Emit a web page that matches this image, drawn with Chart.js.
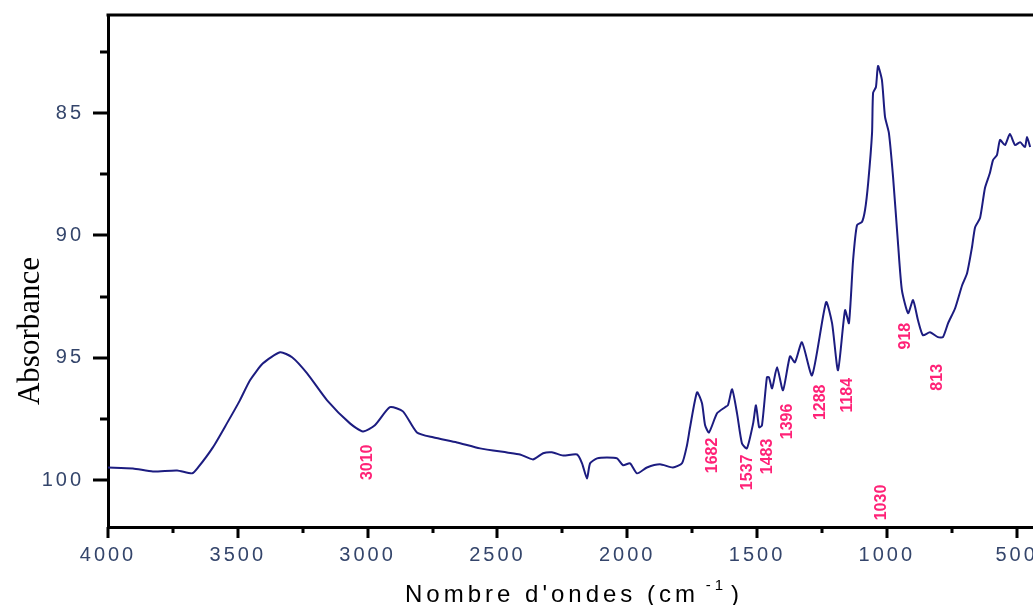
<!DOCTYPE html>
<html>
<head>
<meta charset="utf-8">
<script src="https://cdn.jsdelivr.net/npm/chart.js@4"></script>
<style>
  html, body { margin: 0; padding: 0; background: #fff; }
  canvas { display: block; }
</style>
</head>
<body>
<canvas id="chart" width="1033" height="605"></canvas>
<script>
// spectrum (wavenumber cm-1 / absorbance, axis reversed)
const wavenumbers = [4000, 3904, 3827, 3734, 3676, 3653, 3596, 3542, 3492, 3453, 3403, 3337, 3291, 3233, 3156, 3068, 3018, 2972, 2914, 2864, 2810, 2748, 2656, 2567, 2463, 2413, 2363, 2324, 2290, 2247, 2193, 2174, 2155, 2143, 2116, 2078, 2039, 2016, 1989, 1962, 1924, 1874, 1824, 1789, 1770, 1758, 1731, 1712, 1700, 1685, 1654, 1623, 1612, 1596, 1577, 1558, 1539, 1515, 1504, 1492, 1481, 1462, 1454, 1442, 1423, 1400, 1373, 1354, 1327, 1288, 1234, 1211, 1188, 1161, 1146, 1130, 1115, 1096, 1084, 1072, 1057, 1053, 1042, 1034, 1019, 1007, 992, 976, 957, 942, 918, 899, 880, 861, 834, 803, 784, 764, 737, 710, 691, 672, 660, 641, 622, 603, 591, 576, 564, 545, 526, 506, 487, 468, 460, 448];
const absorbance = [99.47, 99.51, 99.63, 99.59, 99.71, 99.47, 98.65, 97.67, 96.73, 95.91, 95.22, 94.77, 94.97, 95.63, 96.73, 97.67, 98.00, 97.75, 97.01, 97.18, 98.04, 98.24, 98.45, 98.69, 98.86, 98.94, 99.14, 98.89, 98.85, 98.98, 98.94, 99.30, 99.92, 99.30, 99.10, 99.06, 99.10, 99.38, 99.30, 99.71, 99.47, 99.34, 99.47, 99.30, 98.57, 97.83, 96.40, 96.85, 97.75, 98.04, 97.26, 97.01, 96.93, 96.28, 97.26, 98.49, 98.69, 97.67, 96.93, 97.83, 97.75, 95.79, 95.79, 96.24, 95.38, 96.32, 94.93, 95.18, 94.36, 95.71, 92.72, 93.58, 95.50, 93.05, 93.58, 91.01, 89.58, 89.45, 88.96, 87.86, 85.82, 84.18, 83.94, 83.08, 83.65, 85.16, 85.82, 87.62, 90.31, 92.23, 93.17, 92.64, 93.46, 94.07, 93.95, 94.15, 94.15, 93.58, 92.97, 92.03, 91.54, 90.48, 89.66, 89.29, 88.06, 87.45, 86.92, 86.72, 86.10, 86.31, 85.86, 86.31, 86.19, 86.39, 85.98, 86.39];

const xTicks = [4000, 3500, 3000, 2500, 2000, 1500, 1000, 500];
const yTicks = [85, 90, 95, 100];

// band annotations: text, wavenumber, absorbance where the label sits
const peakLabels = ['3010', '1682', '1537', '1483', '1396', '1288', '1184', '1030', '918', '813'];
const peakLabelX = [3001, 1670, 1535, 1458, 1384, 1257, 1150, 1019, 926, 803];
const peakLabelY = [99.26, 98.98, 99.67, 99.02, 97.59, 96.81, 96.52, 100.90, 94.11, 95.79];

const tickColor = '#34456b';

const decor = {
  id: 'decor',
  beforeDraw(chart) {
    chart.ctx.letterSpacing = '3px';
  },
  afterDatasetsDraw(chart) {
    const {ctx, chartArea: a, scales: {x, y}} = chart;
    ctx.save();
    ctx.letterSpacing = '0px';
    ctx.strokeStyle = '#000';
    ctx.lineWidth = 3;

    // top frame line
    ctx.beginPath();
    ctx.moveTo(a.left - 1.5, a.top);
    ctx.lineTo(a.right, a.top);
    ctx.stroke();

    // x ticks, major + minor
    ctx.beginPath();
    for (let v = 500; v <= 4000; v += 250) {
      const px = Math.round(x.getPixelForValue(v));
      const len = v % 500 === 0 ? 11 : 6;
      ctx.moveTo(px, a.bottom);
      ctx.lineTo(px, a.bottom + len);
    }
    // y ticks
    for (let v = 82.5; v <= 100; v += 2.5) {
      const py = Math.round(y.getPixelForValue(v));
      const len = v % 5 === 0 ? 15 : 8;
      ctx.moveTo(a.left, py);
      ctx.lineTo(a.left - len, py);
    }
    ctx.stroke();

    // peak labels
    ctx.fillStyle = '#ff2277';
    ctx.font = 'bold 16px "Liberation Sans", Arial, sans-serif';
    ctx.textAlign = 'center';
    ctx.textBaseline = 'middle';
    peakLabels.forEach((t, i) => {
      ctx.save();
      ctx.translate(x.getPixelForValue(peakLabelX[i]), y.getPixelForValue(peakLabelY[i]));
      ctx.rotate(-Math.PI / 2);
      ctx.fillText(t, 0, 0);
      ctx.restore();
    });

    // y title
    ctx.fillStyle = '#000';
    ctx.font = '31px "Liberation Serif", "Times New Roman", serif';
    ctx.save();
    ctx.translate(31, 331);
    ctx.rotate(-Math.PI / 2);
    ctx.fillText('Absorbance', 0, 0);
    ctx.restore();

    // x title with superscript
    ctx.letterSpacing = '4px';
    ctx.textAlign = 'left';
    ctx.textBaseline = 'alphabetic';
    const big = '24px "Liberation Sans", Arial, sans-serif';
    const small = '15px "Liberation Sans", Arial, sans-serif';
    const p1 = "Nombre d'ondes (cm ", p2 = '-1', p3 = ')';
    ctx.font = big;
    const w1 = ctx.measureText(p1).width, w3 = ctx.measureText(p3).width;
    ctx.font = small;
    const w2 = ctx.measureText(p2).width;
    let sx = 574 - (w1 + w2 + w3) / 2;
    ctx.font = big;
    ctx.fillText(p1, sx, 602);
    ctx.font = small;
    ctx.fillText(p2, sx + w1 - 4, 590);
    ctx.font = big;
    ctx.fillText(p3, sx + w1 + w2, 602);

    ctx.restore();
  }
};

new Chart(document.getElementById('chart'), {
  type: 'line',
  data: {
    datasets: [{
      data: wavenumbers.map((w, i) => ({x: w, y: absorbance[i]})),
      borderColor: '#1c1c80',
      borderWidth: 2,
      pointRadius: 0,
      tension: 0.2,
      fill: false
    }]
  },
  options: {
    responsive: false,
    animation: false,
    layout: {padding: {top: 15, right: 0, bottom: 0, left: 0}},
    plugins: {legend: {display: false}, tooltip: {enabled: false}},
    scales: {
      x: {
        type: 'linear',
        reverse: true,
        min: 437,
        max: 4000,
        grid: {display: false, drawTicks: false},
        border: {display: true, width: 3, color: '#000'},
        afterBuildTicks: s => { s.ticks = xTicks.map(v => ({value: v})); },
        afterFit: s => { s.height = 78; s.paddingLeft = 0; s.paddingRight = 0; },
        ticks: {
          padding: 16,
          color: tickColor,
          maxRotation: 0,
          autoSkip: false,
          font: {size: 20, family: '"Liberation Sans", Arial, sans-serif'},
          callback: v => String(v)
        }
      },
      y: {
        type: 'linear',
        reverse: true,
        min: 81,
        max: 101.9,
        grid: {display: false, drawTicks: false},
        border: {display: true, width: 3, color: '#000'},
        afterBuildTicks: s => { s.ticks = yTicks.map(v => ({value: v})); },
        afterFit: s => { s.width = 108; s.paddingTop = 0; s.paddingBottom = 0; },
        ticks: {
          padding: 24,
          color: tickColor,
          autoSkip: false,
          font: {size: 20, family: '"Liberation Sans", Arial, sans-serif'},
          callback: v => String(v)
        }
      }
    }
  },
  plugins: [decor]
});
</script>
</body>
</html>
